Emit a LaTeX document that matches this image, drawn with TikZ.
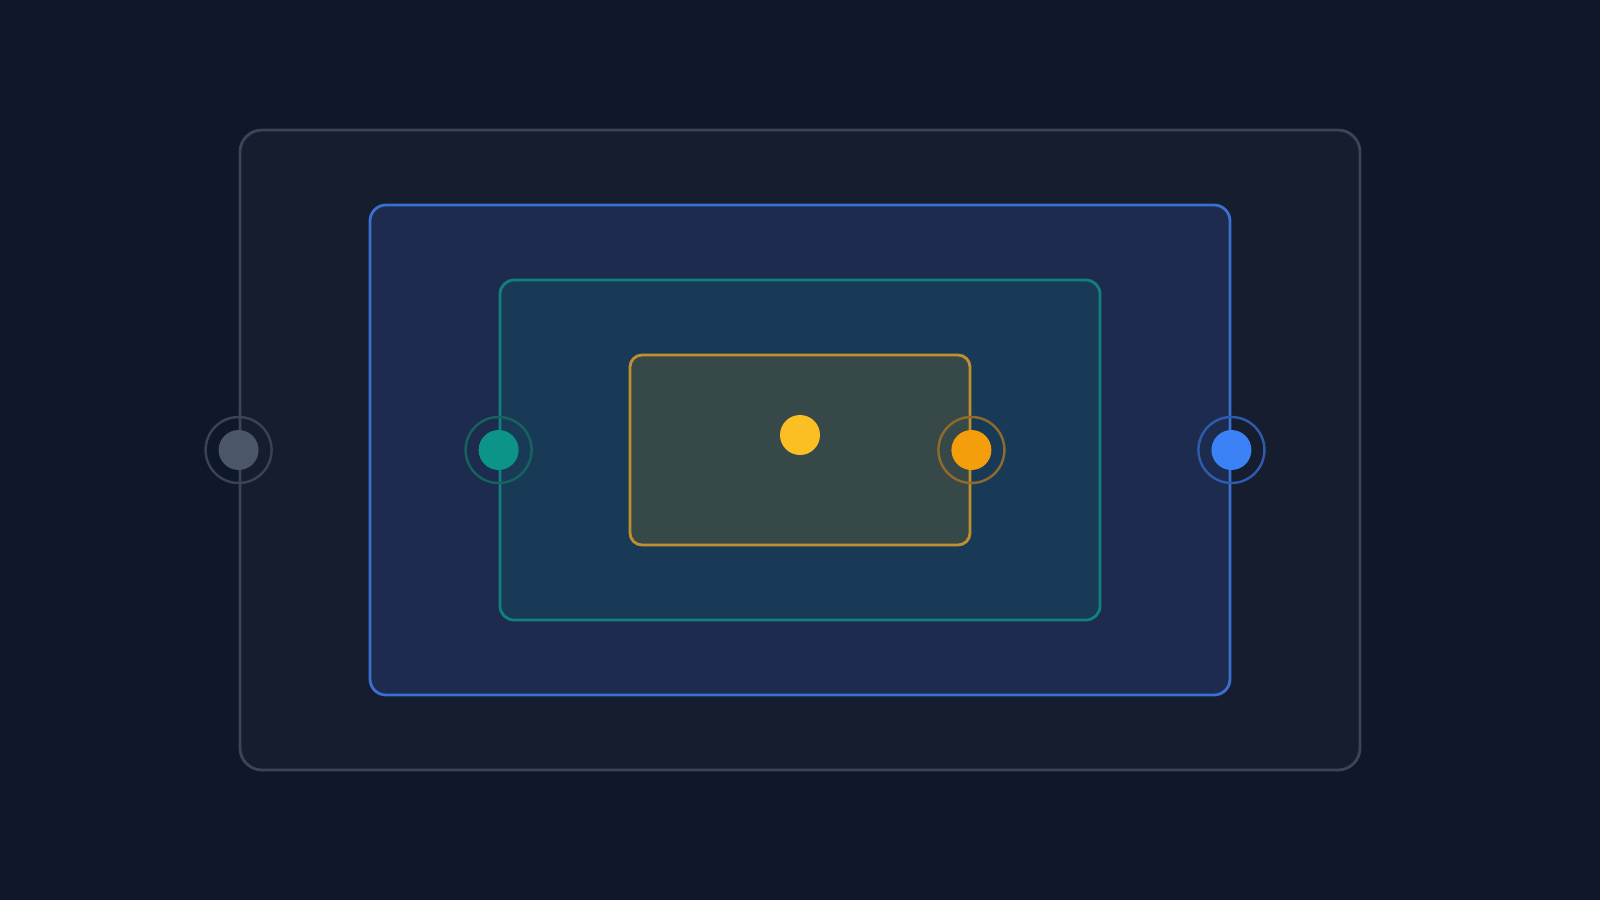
\documentclass[tikz,border=0pt]{standalone}
\usepackage{xcolor}
\usepackage{tikz}
\usetikzlibrary{positioning}
\definecolor{bgcolor}{HTML}{0F172A}
\definecolor{outerfill}{HTML}{151D2E}
\definecolor{outerline}{HTML}{3A4556}
\definecolor{bluefill}{HTML}{1C2B4E}
\definecolor{blueline}{HTML}{3B6FD0}
\definecolor{tealfill}{HTML}{183A56}
\definecolor{tealline}{HTML}{12807E}
\definecolor{corefill}{HTML}{374849}
\definecolor{coreline}{HTML}{C08F2E}
\definecolor{graydot}{HTML}{4B5768}
\definecolor{grayring}{HTML}{394353}
\definecolor{tealdot}{HTML}{0D9488}
\definecolor{tealring}{HTML}{17625F}
\definecolor{orangedot}{HTML}{F59E0B}
\definecolor{orangering}{HTML}{8F6A2A}
\definecolor{bluedot}{HTML}{3B82F6}
\definecolor{bluering}{HTML}{2F5AAE}
\definecolor{yellowdot}{HTML}{FBBF24}

\begin{document}
\begin{tikzpicture}[
    layer/.style={draw, line width=0.8pt, inner sep=0pt},
    ring/.style={circle, draw, line width=0.7pt, minimum size=0.66cm, inner sep=0pt},
    dot/.style={circle, minimum size=0.4cm, inner sep=0pt}
]

% Background
\fill[bgcolor] (0,0) rectangle (16,9);
\useasboundingbox (0,0) rectangle (16,9);

% Layers
\node[layer, fill=outerfill, draw=outerline, minimum width=11.2cm, minimum height=6.4cm, rounded corners=0.22cm] (outer) at (8, 4.5) {};
\node[layer, fill=bluefill, draw=blueline, minimum width=8.6cm, minimum height=4.9cm, rounded corners=0.16cm] (blue) at (8, 4.5) {};
\node[layer, fill=tealfill, draw=tealline, minimum width=6cm, minimum height=3.4cm, rounded corners=0.14cm] (teal) at (8, 4.5) {};
\node[layer, fill=corefill, draw=coreline, minimum width=3.4cm, minimum height=1.9cm, rounded corners=0.12cm] (core) at (8, 4.5) {};

% Ports
\node[ring, draw=grayring] (outerring) at (outer.west) {};
\node[dot, fill=graydot] (outerport) at (outer.west) {};
\node[ring, draw=tealring] (tealring) at (teal.west) {};
\node[dot, fill=tealdot] (tealport) at (teal.west) {};
\node[ring, draw=orangering] (corering) at (core.east) {};
\node[dot, fill=orangedot] (coreport) at (core.east) {};
\node[ring, draw=bluering] (bluering) at (blue.east) {};
\node[dot, fill=bluedot] (blueport) at (blue.east) {};

% Centre
\node[dot, fill=yellowdot] (centre) at (8, 4.65) {};

\end{tikzpicture}
\end{document}
